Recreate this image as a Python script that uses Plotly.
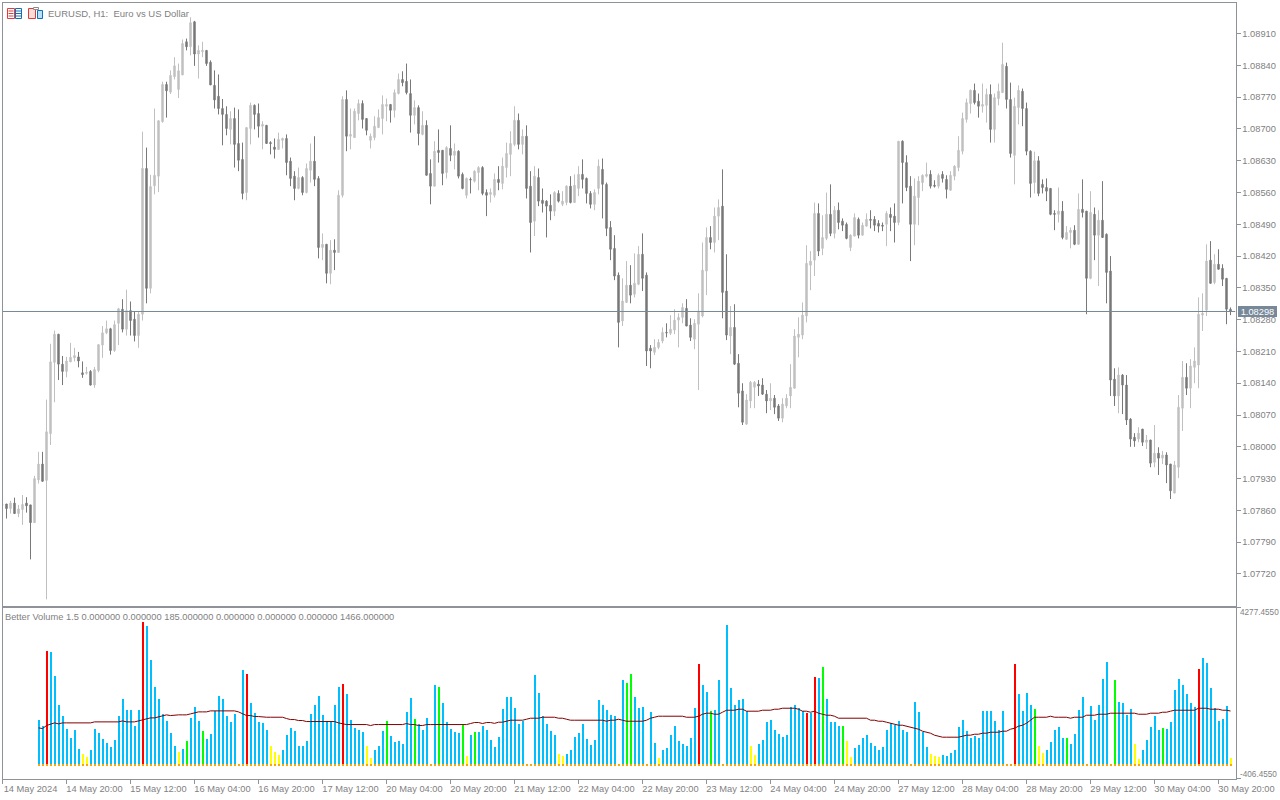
import plotly.graph_objects as go

W, H = 1280, 800

# Prices in points above 1.0 (8298 means 1.08298), one value per hourly bar
open_pts = [
7872,7874,7864,7876,7853,7862,7876,7872,7833,7927,
7962,7926,8029,8186,8248,8182,8166,8187,8196,8198,
8163,8162,8166,8136,8168,8224,8251,8260,8212,8272,
8303,8259,8300,8281,8245,8292,8613,8349,8575,8596,
8716,8798,8781,8815,8787,8819,8892,8881,8936,8865,
8870,8873,8847,8796,8772,8745,8732,8699,8723,8668,
8633,8560,8701,8752,8734,8706,8708,8670,8660,8655,
8675,8679,8629,8596,8569,8593,8560,8609,8629,8591,
8439,8446,8382,8433,8428,8554,8765,8684,8681,8734,
8756,8723,8675,8681,8703,8723,8750,8754,8741,8778,
8809,8805,8778,8730,8747,8688,8708,8602,8574,8653,
8653,8604,8657,8642,8651,8600,8554,8589,8585,8604,
8615,8560,8556,8554,8589,8580,8615,8644,8666,8719,
8666,8684,8574,8497,8593,8543,8541,8532,8519,8558,
8534,8538,8574,8538,8569,8600,8591,8558,8534,8569,
8611,8578,8483,8437,8378,8277,8318,8356,8336,8358,
8424,8378,8217,8208,8219,8233,8252,8250,8257,8279,
8285,8305,8268,8237,8270,8288,8387,8461,8450,8508,
8530,8343,8244,8263,8184,8123,8050,8101,8131,8138,
8136,8116,8101,8107,8090,8063,8090,8112,8129,8241,
8246,8288,8400,8411,8514,8437,8459,8512,8470,8521,
8497,8490,8439,8464,8501,8466,8486,8501,8501,8492,
8488,8490,8512,8508,8494,8673,8626,8574,8490,8549,
8582,8596,8600,8576,8574,8600,8589,8565,8596,8615,
8651,8721,8756,8785,8761,8750,8752,8776,8699,8767,
8780,8838,8765,8642,8747,8783,8745,8651,8582,8630,
8578,8571,8569,8514,8512,8519,8457,8472,8477,8446,
8523,8519,8371,8512,8466,8499,8468,8387,8149,8112,
8158,8136,8061,8021,8017,8039,8010,8015,7966,7986,
7975,7982,7962,7898,7955,8085,8153,8129,8175,8180,
8290,8301,8411,8362,8402,8393,8371,8303]

close_pts = [
7872,7864,7876,7853,7863,7873,7870,7833,7930,7962,
7924,8033,8187,8248,8182,8166,8189,8197,8201,8189,
8159,8164,8136,8170,8225,8251,8260,8212,8269,8304,
8259,8300,8278,8245,8292,8613,8349,8573,8598,8718,
8798,8784,8818,8839,8828,8888,8881,8934,8865,8873,
8873,8844,8797,8764,8745,8732,8701,8723,8666,8631,
8558,8703,8752,8732,8706,8710,8668,8668,8655,8677,
8679,8626,8591,8569,8593,8560,8613,8629,8589,8439,
8446,8382,8433,8428,8554,8765,8684,8688,8739,8756,
8721,8697,8684,8706,8725,8754,8754,8741,8780,8809,
8802,8780,8730,8747,8690,8708,8598,8574,8651,8648,
8602,8659,8642,8651,8596,8569,8591,8588,8607,8615,
8558,8554,8560,8589,8582,8618,8646,8668,8719,8666,
8684,8569,8494,8596,8541,8536,8530,8519,8560,8541,
8541,8574,8538,8576,8600,8589,8558,8534,8560,8618,
8578,8481,8435,8376,8274,8321,8356,8334,8360,8424,
8371,8211,8211,8219,8230,8252,8251,8259,8279,8285,
8307,8266,8241,8272,8299,8389,8461,8450,8508,8527,
8340,8246,8263,8182,8118,8054,8103,8142,8142,8134,
8116,8101,8107,8087,8063,8094,8107,8131,8244,8248,
8290,8404,8409,8514,8431,8461,8512,8470,8521,8494,
8488,8459,8466,8505,8466,8488,8501,8499,8488,8486,
8486,8514,8505,8494,8673,8626,8571,8490,8552,8585,
8598,8600,8574,8574,8598,8591,8567,8598,8618,8653,
8723,8758,8785,8758,8750,8754,8776,8699,8769,8783,
8842,8765,8646,8750,8785,8745,8651,8580,8630,8558,
8571,8563,8512,8512,8519,8461,8472,8477,8446,8523,
8516,8371,8516,8466,8499,8461,8384,8147,8112,8158,
8136,8059,8017,8013,8030,8010,8015,7964,7986,7975,
7982,7960,7903,7960,8087,8153,8129,8178,8189,8292,
8294,8409,8360,8402,8391,8369,8303,8298]

high_pts = [
7872,7874,7881,7888,7872,7894,7889,7872,7936,7989,
7989,8104,8227,8256,8248,8200,8198,8229,8218,8209,
8188,8176,8169,8176,8225,8266,8278,8262,8278,8306,
8325,8346,8320,8299,8299,8694,8659,8599,8745,8719,
8804,8804,8829,8858,8844,8897,8899,8946,8938,8884,
8892,8873,8851,8829,8820,8766,8750,8739,8747,8743,
8670,8703,8758,8754,8756,8717,8708,8673,8679,8692,
8681,8688,8637,8607,8615,8596,8624,8668,8684,8596,
8470,8446,8455,8457,8565,8772,8785,8745,8745,8765,
8763,8723,8690,8728,8743,8774,8767,8754,8787,8822,
8827,8844,8809,8763,8752,8739,8719,8633,8673,8699,
8653,8662,8708,8668,8653,8604,8593,8593,8609,8618,
8618,8567,8569,8602,8618,8637,8670,8695,8750,8734,
8699,8708,8607,8618,8613,8569,8543,8556,8563,8565,
8563,8576,8596,8600,8618,8633,8593,8563,8567,8633,
8635,8582,8497,8466,8384,8371,8409,8400,8426,8442,
8470,8384,8224,8237,8237,8263,8272,8290,8303,8294,
8316,8325,8283,8281,8338,8450,8483,8486,8527,8545,
8611,8424,8310,8314,8204,8140,8116,8145,8145,8147,
8151,8125,8140,8114,8094,8107,8116,8182,8259,8285,
8318,8444,8431,8538,8536,8510,8560,8578,8530,8538,
8503,8494,8468,8514,8505,8494,8514,8521,8508,8499,
8494,8519,8527,8536,8673,8675,8642,8596,8591,8596,
8600,8626,8609,8587,8602,8607,8598,8607,8620,8684,
8736,8767,8787,8800,8778,8800,8789,8798,8778,8800,
8890,8846,8802,8769,8796,8789,8758,8653,8650,8640,
8589,8591,8569,8521,8571,8541,8486,8483,8488,8558,
8589,8519,8563,8527,8521,8585,8470,8420,8173,8175,
8160,8158,8063,8030,8043,8039,8026,8015,8048,7999,
7991,7988,7962,7969,8114,8189,8184,8193,8219,8329,
8338,8446,8453,8424,8435,8402,8371,8307]

low_pts = [
7872,7842,7853,7853,7845,7828,7855,7752,7833,7919,
7924,7664,8004,8098,8147,8136,8153,8187,8188,8175,
8152,8159,8135,8130,8164,8196,8248,8203,8209,8224,
8252,8245,8245,8232,8218,8278,8316,8338,8556,8561,
8714,8725,8777,8809,8768,8819,8873,8862,8839,8811,
8858,8839,8797,8745,8732,8664,8686,8666,8615,8607,
8545,8543,8666,8699,8681,8655,8668,8644,8635,8655,
8657,8598,8574,8543,8567,8554,8558,8582,8574,8415,
8411,8360,8358,8389,8428,8549,8651,8655,8681,8719,
8701,8686,8657,8675,8703,8688,8717,8714,8725,8776,
8794,8776,8692,8710,8664,8686,8598,8534,8574,8626,
8576,8591,8629,8611,8591,8567,8547,8558,8582,8565,
8554,8508,8538,8549,8565,8567,8593,8596,8662,8655,
8644,8547,8428,8464,8530,8516,8461,8499,8508,8538,
8530,8532,8536,8538,8552,8569,8536,8525,8521,8556,
8503,8464,8411,8367,8219,8266,8318,8316,8329,8356,
8343,8178,8173,8202,8215,8228,8241,8246,8248,8219,
8272,8266,8233,8215,8125,8285,8334,8435,8428,8455,
8283,8235,8204,8180,8087,8048,8048,8085,8085,8112,
8114,8074,8081,8072,8057,8054,8085,8085,8129,8197,
8237,8274,8345,8376,8420,8422,8455,8464,8459,8479,
8475,8457,8431,8464,8459,8466,8486,8481,8475,8472,
8475,8442,8475,8450,8488,8536,8563,8409,8444,8488,
8563,8593,8569,8571,8569,8582,8547,8565,8587,8607,
8644,8714,8734,8754,8725,8736,8714,8670,8670,8752,
8780,8745,8637,8578,8710,8706,8642,8549,8558,8552,
8558,8541,8510,8477,8494,8457,8457,8437,8444,8446,
8505,8292,8369,8411,8354,8461,8316,8112,8090,8074,
8072,8048,8000,8000,8010,8002,7995,7955,7955,7938,
7962,7920,7885,7898,7931,8035,8114,8085,8140,8129,
8255,8288,8360,8358,8391,8354,8270,8290]

# Better Volume: the indicator starts at bar 9
volume_start = 9
volumes = [
1230,1065,3130,3103,2442,1643,1340,982,734,955,
431,294,211,404,982,872,707,597,487,679,
1340,1808,1506,1506,1065,1506,3929,3819,2883,2139,
1808,1395,1203,872,514,349,431,652,1285,1588,
1203,927,707,845,1478,1891,1808,1340,1175,1395,
0,2607,2497,1690,1414,1166,1138,946,505,340,
257,395,808,1001,918,505,505,643,1386,1634,
1882,1359,1193,1166,1634,2130,2212,1937,1221,1001,
946,890,505,174,395,505,918,1193,780,615,
643,560,1441,1827,1248,1111,946,1276,0,2185,
2130,1689,1166,973,890,863,1083,230,808,890,
890,1056,946,670,477,753,1524,1854,1854,1551,
1111,1193,0,0,2460,1965,1331,1111,918,808,
285,230,285,395,753,863,1111,698,532,670,
1772,1634,1496,1359,1331,0,2323,2240,2488,1854,
1551,1579,0,1441,588,174,395,450,808,1056,
643,560,505,725,1551,2763,2185,1992,1469,1496,
2323,0,3837,2102,1634,1772,1799,1469,505,257,
560,670,1166,1221,946,835,753,808,1579,1634,
1551,1469,1414,1423,2405,2378,2681,1799,1166,1166,
1056,1056,643,202,450,532,725,808,588,505,
395,477,946,1138,1083,1193,946,890,0,1717,
1441,890,477,285,230,202,257,230,312,395,
1028,1221,918,725,780,725,1469,1469,1469,1193,
946,1469,0,0,2763,1937,1469,1965,1634,1524,
505,312,395,615,946,1028,725,725,560,835,
1496,1854,0,1607,1221,1634,2350,2818,0,2323,
1717,1689,1359,1524,560,147,395,670,1028,1331,
946,1001,973,1166,2047,2350,2185,1937,1689,1579,
2625,2928,2791,2102,1551,1193,1248,1607,185]

volume_average = [
1001,982,1065,1111,1138,1111,1138,1138,1138,1138,
1138,1138,1138,1138,1166,1166,1166,1166,1166,1166,
1166,1193,1166,1166,1166,1193,1221,1248,1276,1276,
1304,1331,1359,1340,1359,1359,1359,1359,1386,1414,
1441,1441,1441,1469,1469,1469,1469,1469,1469,1469,
1441,1386,1340,1340,1313,1313,1294,1294,1294,1294,
1294,1294,1258,1230,1230,1203,1203,1175,1175,1175,
1175,1175,1175,1175,1175,1138,1111,1092,1092,1092,
1092,1092,1092,1065,1092,1092,1092,1092,1092,1092,
1092,1092,1120,1092,1092,1065,1065,1092,1092,1092,
1092,1092,1092,1092,1092,1092,1092,1092,1120,1148,
1148,1120,1148,1148,1125,1157,1157,1184,1212,1212,
1212,1212,1239,1267,1267,1267,1294,1294,1294,1294,
1267,1267,1239,1212,1212,1212,1212,1212,1212,1212,
1212,1212,1184,1212,1212,1239,1212,1184,1184,1184,
1184,1184,1212,1267,1294,1322,1322,1322,1322,1322,
1322,1322,1294,1294,1294,1322,1377,1405,1405,1377,
1377,1432,1487,1487,1487,1515,1515,1460,1460,1460,
1460,1487,1487,1487,1515,1515,1542,1542,1542,1542,
1515,1460,1460,1432,1460,1405,1377,1349,1349,1322,
1267,1267,1267,1267,1267,1267,1267,1267,1212,1212,
1184,1184,1157,1129,1102,1074,1074,1047,1019,991,
964,909,881,854,799,771,744,744,744,744,
744,771,799,799,826,826,854,854,881,881,
881,909,909,964,991,1047,1074,1129,1212,1294,
1294,1294,1294,1322,1294,1294,1294,1294,1267,1294,
1294,1294,1349,1349,1349,1377,1377,1377,1405,1405,
1405,1405,1405,1405,1405,1377,1377,1377,1405,1405,
1405,1432,1432,1460,1487,1487,1487,1487,1487,1487,
1542,1542,1542,1515,1515,1515,1487,1487,1466]

climax_bars = [11,35,61,85,174,201,203,253,299]
churn_bars = [46,50,96,103,109,115,118,156,157,177,205,210,258,266,278,290]
low_volume_bars = [20,21,44,67,68,69,91,92,116,139,140,164,187,188,211,212,232,233,234,259,260,283,284,307]

price_ticks = [1.08910,1.08840,1.08770,1.08700,1.08630,1.08560,1.08490,1.08420,1.08350,
               1.08280,1.08210,1.08140,1.08070,1.08000,1.07930,1.07860,1.07790,1.07720]
time_tick_bars = list(range(0, 305, 16))
time_tick_labels = ["14 May 2024","14 May 20:00","15 May 12:00","16 May 04:00","16 May 20:00",
                    "17 May 12:00","20 May 04:00","20 May 20:00","21 May 12:00","22 May 04:00",
                    "22 May 20:00","23 May 12:00","24 May 04:00","24 May 20:00","27 May 12:00",
                    "28 May 04:00","28 May 20:00","29 May 12:00","30 May 04:00","30 May 20:00"]
last_price = 1.08298

FRAME = "#8f9299"
TEXT = "#7f7f7f"
FONT = "Liberation Sans"
BULL = "#c0c0c0"
BEAR = "#787878"

def px(x): return x / W
def py(y): return 1 - y / H
def price(v): return [1 + p / 1e5 for p in v]

bars = list(range(len(open_pts)))
vol_x = [volume_start + k for k in range(len(volumes))]
assert len(open_pts) == len(close_pts) == len(high_pts) == len(low_pts)
assert len(volumes) == len(volume_average) == len(bars) - volume_start

def vol_color(i):
    if i in climax_bars: return "#ff0000"
    if i in churn_bars: return "#00ff00"
    if i in low_volume_bars: return "#ffff00"
    return "#00bfff"

fig = go.Figure()
fig.add_trace(go.Candlestick(
    x=bars, open=price(open_pts), high=price(high_pts), low=price(low_pts), close=price(close_pts),
    xaxis="x", yaxis="y", whiskerwidth=0, showlegend=False, hoverinfo="skip",
    increasing=dict(line=dict(color=BULL, width=1), fillcolor=BULL),
    decreasing=dict(line=dict(color=BEAR, width=1), fillcolor=BEAR),
))
fig.add_trace(go.Bar(
    x=vol_x, y=volumes, xaxis="x2", yaxis="y2", width=0.5, offset=-0.375,
    marker=dict(color=[vol_color(i) for i in vol_x], line=dict(width=0)),
    showlegend=False, hoverinfo="skip",
))
fig.add_trace(go.Bar(
    x=vol_x, y=[-27.55] * len(vol_x), xaxis="x2", yaxis="y2", width=0.5, offset=-0.375,
    marker=dict(color="#ffa500", line=dict(width=0)),
    showlegend=False, hoverinfo="skip",
))
fig.add_trace(go.Scatter(
    x=vol_x, y=volume_average, xaxis="x2", yaxis="y2", mode="lines",
    line=dict(color="#800000", width=1), showlegend=False, hoverinfo="skip",
))

def rect(x0, y0, x1, y1, line, fill):
    return dict(type="rect", xref="paper", yref="paper", x0=px(x0), x1=px(x1), y0=py(y0), y1=py(y1),
                line=dict(color=line, width=1), fillcolor=fill, layer="above")

def hline(x0, x1, y, color):
    return dict(type="line", xref="paper", yref="paper", x0=px(x0), x1=px(x1), y0=py(y), y1=py(y),
                line=dict(color=color, width=1), layer="above")

shapes = [
    dict(type="line", xref="x", yref="y", x0=0, x1=308.25, y0=last_price, y1=last_price,
         line=dict(color="#778899", width=1), layer="above"),
    rect(7.5, 8.5, 14.5, 18.5, "#e03c3c", "#ffffff"),
    rect(15.5, 8.5, 21.5, 18.5, "#1070b8", "#ffffff"),
    rect(28.5, 8.5, 35.5, 18.5, "#e03c3c", "#fbdcd6"),
    rect(37.5, 10.5, 42.5, 18.5, "#1070b8", "#b8e0f8"),
    rect(33.5, 7.5, 38.5, 9.5, "#8a8a8a", "#ffffff"),
]
for y in (11, 13.5, 16):
    shapes.append(hline(8.5, 13.5, y, "#e03c3c"))
    shapes.append(hline(16, 21, y, "#1070b8"))

def label(x, y, text, anchor="left", size=9.3, color=TEXT, **kw):
    return dict(xref="paper", yref="paper", x=px(x), y=py(y), text=text, showarrow=False,
                xanchor=anchor, yanchor="middle", font=dict(family=FONT, size=size, color=color),
                borderpad=0, borderwidth=0, **kw)

annotations = [
    label(48, 13.5, "EURUSD, H1:  Euro vs US Dollar", size=9.5),
    label(5, 616.5, "Better Volume 1.5 0.000000 0.000000 185.000000 0.000000 0.000000 0.000000 1466.000000", size=9.3),
    label(1240, 612, "4277.4550", size=8.2),
    label(1240, 774, "-406.4550", size=8.2),
    label(1238, 311.5, "1.08298", color="#ffffff", bgcolor="#778899", width=39, height=11, align="center", size=9.3),
]

axis_common = dict(showline=True, linecolor=FRAME, linewidth=1, mirror=True, showgrid=False, zeroline=False)

fig.update_layout(
    width=W, height=H, margin=dict(l=0, r=0, t=0, b=0, autoexpand=False), autosize=False,
    paper_bgcolor="#ffffff", plot_bgcolor="#ffffff",
    barmode="overlay", boxgap=0.5, bargap=0, showlegend=False,
    font=dict(family=FONT, size=9, color=TEXT),
    shapes=shapes, annotations=annotations,
    xaxis=dict(domain=[px(2.5), px(1235.5)], range=[0, 308.25], anchor="y", showticklabels=False,
               ticks="", rangeslider=dict(visible=False), **axis_common),
    yaxis=dict(domain=[py(605.5), py(2.5)], range=[1.076505, 1.089785], anchor="x", side="right",
               tickmode="array", tickvals=price_ticks, ticktext=[f"{t:.5f}" for t in price_ticks],
               ticks="outside", ticklen=4, tickcolor=FRAME, tickfont=dict(family=FONT, size=9.3, color=TEXT),
               **axis_common),
    xaxis2=dict(domain=[px(2.5), px(1235.5)], range=[0, 308.25], anchor="y2",
                tickmode="array", tickvals=time_tick_bars, ticktext=time_tick_labels,
                ticks="outside", ticklen=4, tickcolor=FRAME, ticklabelshift=28, ticklabelstandoff=-3,
                tickfont=dict(family=FONT, size=9.3, color=TEXT), **axis_common),
    yaxis2=dict(domain=[py(778.5), py(607.5)], range=[-394, 4317], anchor="x2", side="right",
                tickmode="array", tickvals=[-394, 4317], showticklabels=False,
                ticks="outside", ticklen=4, tickcolor=FRAME, **axis_common),
)

fig.write_html("out.html", config=dict(displayModeBar=False, responsive=False),
               post_script="document.body.style.margin='0';document.body.style.overflow='hidden';window.dispatchEvent(new Event('resize'));")
